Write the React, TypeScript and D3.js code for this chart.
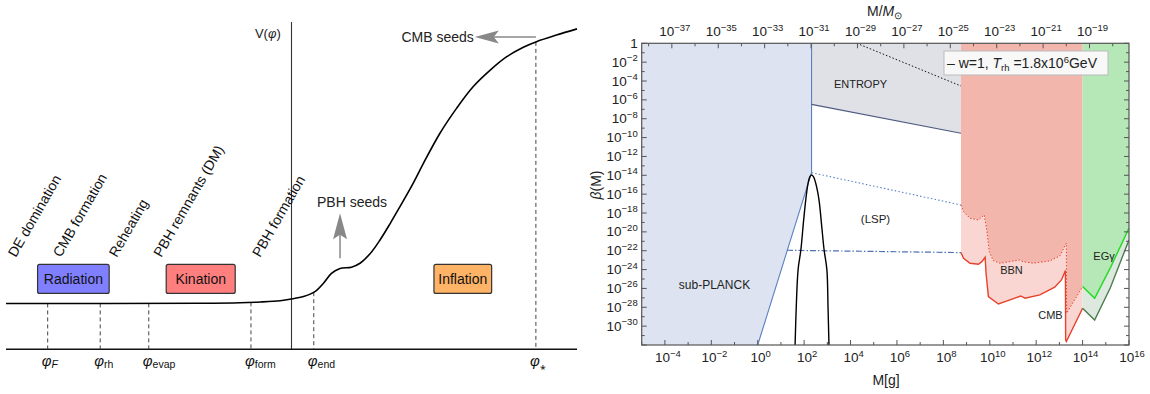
import React from "react";
import * as d3 from "d3";

const FONT = "'Liberation Sans', Arial, Helvetica, sans-serif";

// ---------- left panel : schematic potential V(phi), arbitrary units ----------
const phiSamples = [0, 34, 41, 44.5, 48, 49.7, 52.1, 54.1, 55.6, 57.0, 58.5, 60.5, 62.0, 63.8, 65.5, 67.3, 69.0, 71.3, 73.1, 76.0, 78.9, 81.8, 84.8, 87.7, 90.6, 92.9, 96.4, 100];
const potentialSamples = [1.40, 1.405, 1.42, 1.445, 1.485, 1.53, 1.61, 1.76, 2.02, 2.32, 2.47, 2.51, 2.63, 2.93, 3.34, 3.85, 4.36, 5.07, 5.68, 6.60, 7.36, 8.02, 8.53, 8.94, 9.23, 9.40, 9.60, 9.79];
const markerSubs = ["F", "rh", "evap", "form", "end", "*"];
const markerPhi = [7.3, 16.5, 25.0, 42.9, 53.9, 92.8];
const eventNames = ["DE domination", "CMB formation", "Reheating", "PBH remnants (DM)", "PBH formation"];
const eventPhi = [1.7, 9.6, 19.4, 27.2, 44.5];
const epochNames = ["Radiation", "Kination", "Inflation"];
const epochPhi = [11.8, 34.1, 80.0];
const axisPhi = 50;

// ---------- right panel : beta(M) constraints, values are log10 ----------
const planckEdgeM = [2.32, 2.32, 0];
const planckEdgeB = [0, -13.72, -32];
const entropyLowM = [2.32, 8.76];
const entropyLowB = [-6.47, -9.54];
const entropyDotM = [4.27, 8.76];
const entropyDotB = [0, -4.53];
const lspDotM = [2.32, 8.76];
const lspDotB = [-13.72, -17.15];
const dashDotM = [1.26, 8.76];
const dashDotB = [-21.95, -22.2];
const bellM = [1.61, 1.66, 1.74, 1.86, 1.97, 2.07, 2.17, 2.25, 2.32, 2.40, 2.50, 2.64, 2.75, 2.86, 2.98, 3.03, 3.07];
const bellB = [-32, -28, -24.0, -21.9, -19.0, -16.6, -14.85, -14.15, -13.97, -14.15, -14.85, -16.6, -19.2, -21.9, -24.0, -28, -32];
const bbnUpM = [8.76, 8.87, 9.15, 9.51, 9.76, 9.87, 9.98, 10.15, 10.44, 10.87, 11.27, 11.44, 11.87, 12.59, 13.02, 13.19, 13.30, 13.31, 14.0];
const bbnUpB = [-17.15, -17.86, -18.56, -18.74, -18.2, -19.8, -22.1, -23.05, -23.33, -23.16, -22.98, -23.16, -23.33, -23.08, -22.55, -21.74, -21.2, -28.63, -25.8];
const bbnLowM = [8.76, 8.87, 9.15, 9.51, 9.66, 9.80, 9.84, 9.94, 10.37, 10.87, 11.33, 11.52, 12.16, 12.80, 13.09, 13.26, 13.27, 13.30, 14.0];
const bbnLowB = [-22.2, -22.8, -23.33, -23.44, -23.16, -22.7, -24.39, -26.87, -27.65, -27.22, -26.8, -27.04, -26.69, -25.87, -25.1, -24.11, -31.46, -31.64, -28.1];
const egUpM = [14.0, 14.52, 15.2, 16];
const egUpB = [-25.8, -27.04, -23.8, -19.6];
const egLowM = [14.0, 14.52, 15.2, 16];
const egLowB = [-28.1, -29.35, -25.9, -20.86];
const bbnEdgeM = 8.76;
const egEdgeM = 14.0;
const yLabelExps = [0, -2, -4, -6, -8, -10, -12, -14, -16, -18, -20, -22, -24, -26, -28, -30];
const xLabelExps = [-4, -2, 0, 2, 4, 6, 8, 10, 12, 14, 16];
const sunLabelExps = [-37, -35, -33, -31, -29, -27, -25, -23, -21, -19];
const LOG_MSUN = Math.log10(1.989e33);

const zip = (a: number[], b: number[]) => a.map((v, i) => [v, b[i]] as [number, number]);

function LeftPanel() {
  const px = d3.scaleLinear().domain([0, 100]).range([6, 577]);
  const pv = d3.scaleLinear().domain([0, 10]).range([349.3, 22]);
  const vAt = (phi: number) => {
    const i = Math.max(1, d3.bisectLeft(phiSamples, phi));
    const t = (phi - phiSamples[i - 1]) / (phiSamples[i] - phiSamples[i - 1]);
    return potentialSamples[i - 1] + t * (potentialSamples[i] - potentialSamples[i - 1]);
  };
  const curve = d3.line<[number, number]>().x(d => px(d[0])).y(d => pv(d[1])).curve(d3.curveCatmullRom.alpha(0.5));
  const epochColors = ["#7f7fff", "#ff7f7f", "#ffb366"];
  const epochW = [71.6, 69, 57.7];
  const boxV = 2.15;
  return (
    <g fontFamily={FONT}>
      <line x1={px(axisPhi)} x2={px(axisPhi)} y1={pv(10)} y2={pv(0)} stroke="#333" strokeWidth={1.1} />
      <line x1={px(0)} x2={px(100)} y1={pv(0)} y2={pv(0)} stroke="#111" strokeWidth={1.5} />
      <text x={px(43.6)} y={pv(9.5)} fontSize={13} fill="#222">V(<tspan fontStyle="italic">φ</tspan>)</text>
      {markerPhi.map((p, i) => (
        <g key={i}>
          <line x1={px(p)} x2={px(p)} y1={pv(vAt(p))} y2={pv(0)} stroke="#444" strokeDasharray="4,3" strokeWidth={1} />
          <text x={px(p) - 6} y={pv(0) + 17} fontSize={15} fill="#111">
            <tspan fontStyle="italic">φ</tspan>
            <tspan fontSize={10.5} dy={2} fontStyle={markerSubs[i] === "F" ? "italic" : "normal"}>{markerSubs[i] === "*" ? "⁎" : markerSubs[i]}</tspan>
          </text>
        </g>
      ))}
      <path d={curve(zip(phiSamples, potentialSamples)) || ""} fill="none" stroke="#000" strokeWidth={1.6} />
      {eventNames.map((n, i) => (
        <text key={n} transform={`translate(${px(eventPhi[i])},${pv(2.79)}) rotate(-60)`} fontSize={14} fill="#111">{n}</text>
      ))}
      {epochNames.map((n, i) => (
        <g key={n}>
          <rect x={px(epochPhi[i]) - epochW[i] / 2} y={pv(boxV) - 14.5} width={epochW[i]} height={29} rx={2} fill={epochColors[i]} stroke="#333" strokeWidth={1.2} />
          <text x={px(epochPhi[i])} y={pv(boxV) + 5} textAnchor="middle" fontSize={14} fill="#111">{n}</text>
        </g>
      ))}
      {/* PBH seeds arrow */}
      <line x1={px(58.5)} x2={px(58.5)} y1={pv(2.78)} y2={pv(3.5)} stroke="#888" strokeWidth={1.5} />
      <path d={`M${px(58.5)},${pv(4.16)} L${px(58.5) + 7},${pv(3.36)} L${px(58.5)},${pv(3.5)} L${px(58.5) - 7},${pv(3.36)} Z`} fill="#888" />
      <text x={px(60.6)} y={pv(4.2) - 5} textAnchor="middle" fontSize={14} fill="#222">PBH seeds</text>
      {/* CMB seeds arrow */}
      <line x1={px(92.8)} x2={px(85)} y1={pv(9.54)} y2={pv(9.54)} stroke="#888" strokeWidth={1.5} />
      <path d={`M${px(82.1)},${pv(9.54)} L${px(82.1) + 24},${pv(9.54) - 6.5} L${px(82.1) + 19},${pv(9.54)} L${px(82.1) + 24},${pv(9.54) + 6.5} Z`} fill="#888" />
      <text x={px(75.6)} y={pv(9.54) + 5} textAnchor="middle" fontSize={14} fill="#222">CMB seeds</text>
    </g>
  );
}

function Sup({ base, exp, ...rest }: any) {
  return (
    <text {...rest}>
      {base}
      {exp !== null && <tspan dy={-5.5} fontSize={9.5}>{exp}</tspan>}
    </text>
  );
}

function RightPanel() {
  const L = 641.7, R = 1129, T = 43.3, B = 345;
  const x = d3.scaleLog().domain([1e-5, 1e16]).range([L, R]);
  const y = d3.scaleLog().domain([1e-32, 1]).range([B, T]);
  const X = (lm: number) => x(Math.pow(10, lm));
  const Y = (lb: number) => y(Math.pow(10, lb));
  const line = d3.line<[number, number]>().x(d => X(d[0])).y(d => Y(d[1]));
  const poly = (pts: [number, number][]) => line(pts) + "Z";
  const fmt = (e: number) => (e === 0 ? null : e < 0 ? "−" + Math.abs(e) : String(e));

  const planckPts = zip(planckEdgeM, planckEdgeB);
  const bbnUp = zip(bbnUpM, bbnUpB);
  const bbnLow = zip(bbnLowM, bbnLowB);
  const egUp = zip(egUpM, egUpB);
  const egLow = zip(egLowM, egLowB);
  const frame = "#555";
  const yTicks = d3.range(0, -33, -1);
  const xTicks = d3.range(-5, 17, 1);
  const sunTicks = d3.range(-38, -17, 1).filter(k => k + LOG_MSUN <= 16);

  return (
    <g fontFamily={FONT}>
      <defs>
        <clipPath id="plotClip"><rect x={L} y={T} width={R - L} height={B - T} /></clipPath>
      </defs>
      <g clipPath="url(#plotClip)">
        <path d={poly([[-5, 0], ...planckPts, [-5, -32]])} fill="#dde3f0" />
        <path d={poly([[2.32, 0], [bbnEdgeM, 0], ...zip(entropyLowM, entropyLowB).reverse()])} fill="#e0e1e7" />
        <path d={poly([[bbnEdgeM, 0], ...bbnUp, [egEdgeM, 0]])} fill="#f3b6ad" />
        <path d={poly([...bbnUp, ...bbnLow.slice().reverse()])} fill="#f9d6d1" />
        <path d={poly([[egEdgeM, 0], ...egUp, [16, 0]])} fill="#b5e8b6" />
        <path d={poly([...egUp, ...egLow.slice().reverse()])} fill="#dde8de" />

        <path d={line(planckPts) || ""} fill="none" stroke="#5b80c2" strokeWidth={1.1} />
        <path d={line(zip(entropyLowM, entropyLowB)) || ""} fill="none" stroke="#4e5b80" strokeWidth={1.2} />
        <path d={line(zip(entropyDotM, entropyDotB)) || ""} fill="none" stroke="#111" strokeWidth={1} strokeDasharray="1.5,2" />
        <path d={line(zip(lspDotM, lspDotB)) || ""} fill="none" stroke="#5b80c2" strokeWidth={1.1} strokeDasharray="1.5,2.2" />
        <path d={line(zip(dashDotM, dashDotB)) || ""} fill="none" stroke="#4f73b5" strokeWidth={1.2} strokeDasharray="6,2,1.5,2" />
        <path d={line(bbnUp) || ""} fill="none" stroke="#e8412c" strokeWidth={1} strokeDasharray="1.5,1.8" />
        <path d={line(bbnLow) || ""} fill="none" stroke="#e8412c" strokeWidth={1.4} />
        <path d={line(egUp) || ""} fill="none" stroke="#1fdc1f" strokeWidth={1.4} />
        <path d={line(egLow) || ""} fill="none" stroke="#4b7e50" strokeWidth={1.4} />
        <path d={d3.line<[number, number]>().x(d => X(d[0])).y(d => Y(d[1])).curve(d3.curveCatmullRom.alpha(0.5))(zip(bellM, bellB)) || ""} fill="none" stroke="#000" strokeWidth={1.4} />
      </g>

      {/* frame */}
      <rect x={L} y={T} width={R - L} height={B - T} fill="none" stroke={frame} strokeWidth={1.2} />
      {yTicks.map(e => {
        const len = e % 2 === 0 ? 5 : 3;
        return (
          <g key={"y" + e}>
            <line x1={L} x2={L + len} y1={Y(e)} y2={Y(e)} stroke={frame} />
            <line x1={R} x2={R - len} y1={Y(e)} y2={Y(e)} stroke={frame} />
          </g>
        );
      })}
      {xTicks.map(e => {
        const len = e % 2 === 0 ? 5 : 3;
        return <line key={"x" + e} x1={X(e)} x2={X(e)} y1={B} y2={B - len} stroke={frame} />;
      })}
      {sunTicks.map(k => {
        const len = k % 2 !== 0 ? 5 : 3;
        return <line key={"s" + k} x1={X(k + LOG_MSUN)} x2={X(k + LOG_MSUN)} y1={T} y2={T + len} stroke={frame} />;
      })}
      {yLabelExps.map(e => (
        <Sup key={"yl" + e} base={e === 0 ? "1" : "10"} exp={fmt(e)} x={L - 4} y={Y(e) + 4.5} textAnchor="end" fontSize={13.5} fill="#222" />
      ))}
      {xLabelExps.map(e => (
        <Sup key={"xl" + e} base="10" exp={e === 0 ? "0" : fmt(e)} x={X(e) + 3} y={B + 17} textAnchor="middle" fontSize={13.5} fill="#222" />
      ))}
      {sunLabelExps.map(k => (
        <Sup key={"sl" + k} base="10" exp={fmt(k)} x={X(k + LOG_MSUN) + 3} y={T - 7} textAnchor="middle" fontSize={13.5} fill="#222" />
      ))}

      <text x={886} y={385} textAnchor="middle" fontSize={14} fill="#222">M[g]</text>
      <text x={867} y={16} fontSize={14} fill="#222">M/<tspan fontStyle="italic">M</tspan><tspan fontSize={10} dy={3}>⊙</tspan></text>
      <text transform={`translate(${601},${185}) rotate(-90)`} textAnchor="middle" fontSize={14} fill="#222"><tspan fontStyle="italic">β</tspan>(M)</text>

      <text x={860.5} y={88} textAnchor="middle" fontSize={11} fill="#222">ENTROPY</text>
      <text x={714.5} y={289} textAnchor="middle" fontSize={12} fill="#222">sub-PLANCK</text>
      <text x={875.5} y={223} textAnchor="middle" fontSize={11.5} fill="#222">(LSP)</text>
      <text x={1011.5} y={274} textAnchor="middle" fontSize={11} fill="#222">BBN</text>
      <text x={1050.5} y={319} textAnchor="middle" fontSize={11} fill="#222">CMB</text>
      <text x={1104} y={260} textAnchor="middle" fontSize={11} fill="#222">EGγ</text>

      <rect x={944} y={51} width={164} height={24} fill="#f8f8f8" stroke="#bbb" strokeWidth={1} />
      <text x={947} y={68} fontSize={14} fill="#222">
        – w=1,{"  "}<tspan fontStyle="italic">T</tspan><tspan fontSize={9.5} dy={3}>rh</tspan><tspan dy={-3}> =1.8x10</tspan><tspan fontSize={9.5} dy={-5}>6</tspan><tspan dy={5}>GeV</tspan>
      </text>
    </g>
  );
}

export default function App() {
  return (
    <svg width={1150} height={394} style={{ position: "absolute", left: 0, top: 0, background: "#fff" }}>
      <rect width={1150} height={394} fill="#fff" />
      <LeftPanel />
      <RightPanel />
    </svg>
  );
}
